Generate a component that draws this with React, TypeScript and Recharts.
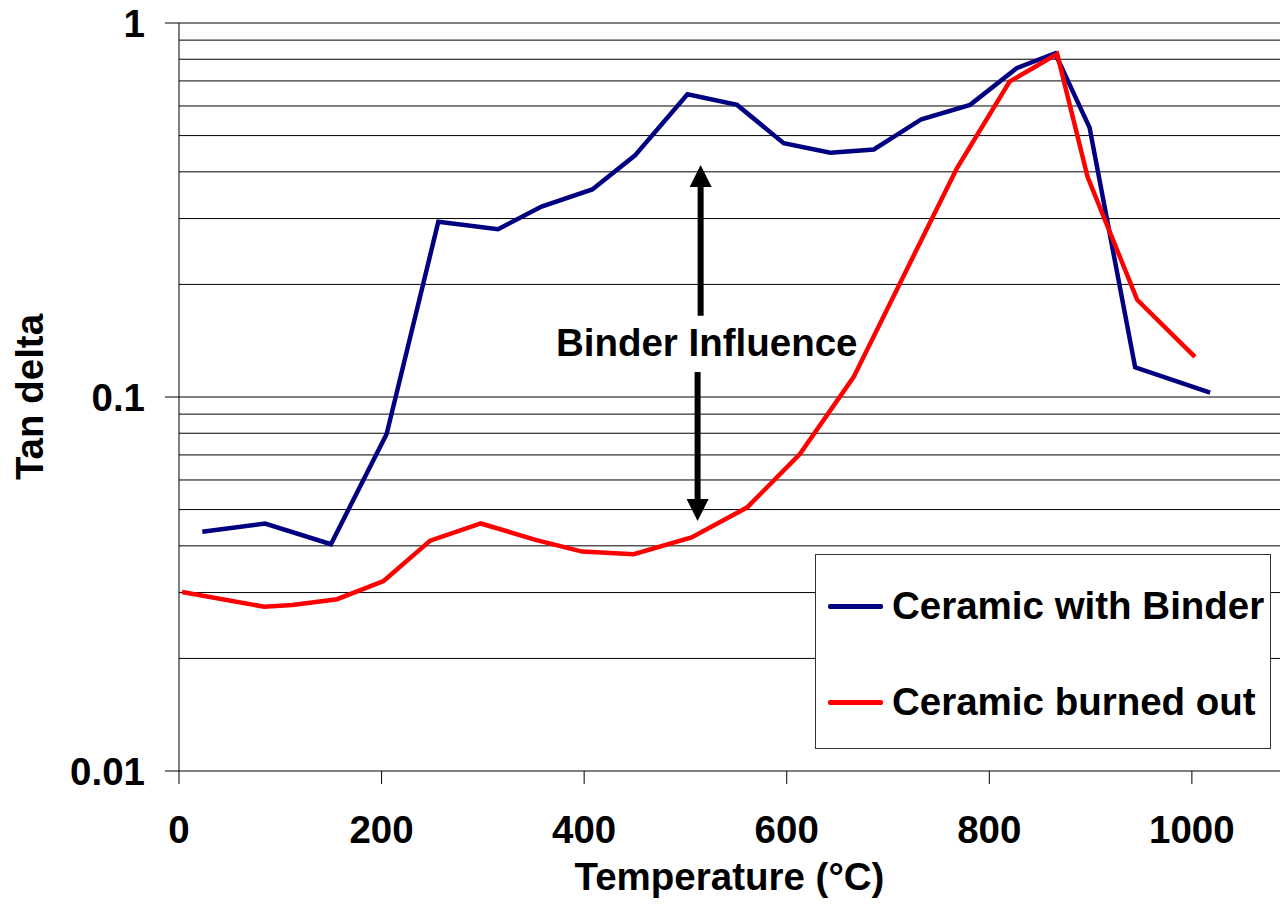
import React from "react";
import {
  LineChart,
  Line,
  XAxis,
  YAxis,
  ReferenceLine,
  ReferenceDot,
  Legend,
} from "recharts";

const FONT = "'Liberation Sans', Arial, Helvetica, sans-serif";

// Ceramic with Binder
const binderTemp = [23, 85, 150, 205, 256, 315, 358, 408, 450, 502, 551, 597, 643, 686, 733, 781, 827, 865, 899, 944, 1018];
const binderTan = [0.0436, 0.0459, 0.0404, 0.0796, 0.294, 0.281, 0.323, 0.359, 0.442, 0.645, 0.604, 0.477, 0.45, 0.459, 0.553, 0.604, 0.757, 0.83, 0.525, 0.12, 0.1027];

// Ceramic burned out
const burnedTemp = [3, 84, 112, 156, 202, 248, 298, 352, 398, 449, 506, 561, 613, 666, 768, 820, 867, 897, 946, 1003];
const burnedTan = [0.0301, 0.0275, 0.0278, 0.0288, 0.0322, 0.0413, 0.0459, 0.0415, 0.0386, 0.038, 0.0421, 0.0507, 0.0704, 0.113, 0.409, 0.697, 0.826, 0.388, 0.182, 0.128];

const xTicks = [0, 200, 400, 600, 800, 1000];
const yTicks = [0.01, 0.1, 1];
const gridValues = [
  0.02, 0.03, 0.04, 0.05, 0.06, 0.07, 0.08, 0.09, 0.1,
  0.2, 0.3, 0.4, 0.5, 0.6, 0.7, 0.8, 0.9, 1,
];

const seriesNames = ["Ceramic with Binder", "Ceramic burned out"];
const seriesColors = ["#000080", "#ff0000"];

const binderData = binderTemp.map((t, i) => ({ t, v: binderTan[i] }));
const burnedData = burnedTemp.map((t, i) => ({ t, v: burnedTan[i] }));

const tickStyle = { fill: "#000", fontSize: 38.5, fontWeight: "bold", fontFamily: FONT };

// vertical arrow, tip at (x2, y2)
const Arrow = (props: any) => {
  const { x1, y1, x2, y2 } = props;
  const dir = y2 < y1 ? -1 : 1;
  const head = 22;
  const half = 11;
  const base = y2 - dir * head;
  return (
    <g>
      <line x1={x1} y1={y1} x2={x2} y2={base} stroke="#000" strokeWidth={6} />
      <polygon
        points={`${x2},${y2} ${x2 - half},${base} ${x2 + half},${base}`}
        fill="#000"
      />
    </g>
  );
};

const renderLegend = () => (
  <div
    style={{
      width: 456,
      height: 195,
      border: "1px solid #333",
      background: "#fff",
      boxSizing: "border-box",
      position: "relative",
      fontFamily: FONT,
    }}
  >
    {seriesNames.map((name, i) => (
      <div
        key={name}
        style={{
          position: "absolute",
          left: 12,
          top: 30 + i * 96,
          height: 42,
          display: "flex",
          alignItems: "center",
          whiteSpace: "nowrap",
        }}
      >
        <span
          style={{
            display: "inline-block",
            width: 55,
            height: 5,
            borderRadius: 2,
            background: seriesColors[i],
          }}
        />
        <span style={{ marginLeft: 9, fontSize: 38.5, fontWeight: "bold", color: "#000" }}>
          {name}
        </span>
      </div>
    ))}
  </div>
);

export default function App() {
  return (
    <div style={{ position: "absolute", left: 0, top: 0, background: "#fff" }}>
      <LineChart
        width={1280}
        height={923}
        margin={{ top: 23, right: 0, bottom: 0, left: 0 }}
      >
        <XAxis
          dataKey="t"
          type="number"
          domain={[0, 1087]}
          ticks={xTicks}
          allowDataOverflow
          height={152}
          stroke="#000"
          tickSize={13}
          tickMargin={32}
          tick={tickStyle}
          tickLine={{ stroke: "#000" }}
          label={(p: any) => {
            const vb = p.viewBox;
            return (
              <text
                x={vb.x + vb.width / 2}
                y={876}
                textAnchor="middle"
                dominantBaseline="central"
                style={tickStyle}
              >
                Temperature (°C)
              </text>
            );
          }}
        />
        <YAxis
          scale="log"
          domain={[0.01, 1]}
          ticks={yTicks}
          allowDataOverflow
          width={179}
          stroke="#000"
          tickSize={14}
          tickMargin={20}
          tick={tickStyle}
          tickLine={{ stroke: "#000" }}
          tickFormatter={(v: number) => String(v)}
          label={(p: any) => {
            const vb = p.viewBox;
            const cx = 29;
            const cy = vb.y + vb.height / 2;
            return (
              <text
                x={cx}
                y={cy}
                textAnchor="middle"
                dominantBaseline="central"
                transform={`rotate(-90 ${cx} ${cy})`}
                style={tickStyle}
              >
                Tan delta
              </text>
            );
          }}
        />
        {gridValues.map((v) => (
          <ReferenceLine key={v} y={v} stroke="#000" strokeWidth={1} />
        ))}
        <Line
          data={binderData}
          dataKey="v"
          name={seriesNames[0]}
          type="linear"
          stroke={seriesColors[0]}
          strokeWidth={4.5}
          dot={false}
          isAnimationActive={false}
        />
        <Line
          data={burnedData}
          dataKey="v"
          name={seriesNames[1]}
          type="linear"
          stroke={seriesColors[1]}
          strokeWidth={4.5}
          dot={false}
          isAnimationActive={false}
        />
        <ReferenceLine
          segment={[
            { x: 515, y: 0.165 },
            { x: 515, y: 0.417 },
          ]}
          shape={Arrow}
        />
        <ReferenceLine
          segment={[
            { x: 512, y: 0.1166 },
            { x: 512, y: 0.0466 },
          ]}
          shape={Arrow}
        />
        <ReferenceDot
          x={521}
          y={0.1403}
          r={0}
          shape={(p: any) => (
            <text
              x={p.cx}
              y={p.cy}
              textAnchor="middle"
              dominantBaseline="central"
              style={tickStyle}
            >
              Binder Influence
            </text>
          )}
        />
        <Legend
          layout="horizontal"
          align="center"
          verticalAlign="middle"
          content={renderLegend}
          wrapperStyle={{ left: 815, top: 554, width: 456, height: 195 }}
        />
      </LineChart>
    </div>
  );
}
